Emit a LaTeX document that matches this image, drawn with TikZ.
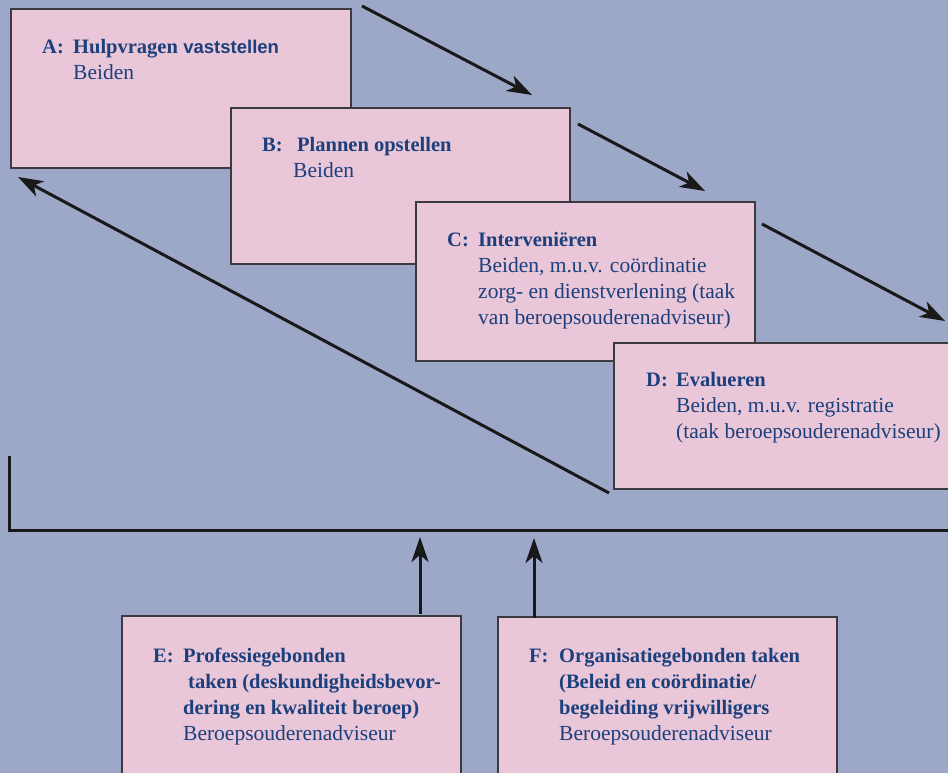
\documentclass[tikz,border=0pt]{standalone}
\usepackage{fontspec}
\setmainfont{Liberation Serif}
\newfontfamily\sansbold{Liberation Sans}
\usetikzlibrary{arrows.meta}
\definecolor{bg}{HTML}{9DA8C8}
\definecolor{pinkbox}{HTML}{E9C6D8}
\definecolor{txt}{HTML}{1C407C}
\definecolor{edge}{HTML}{3A3A40}
\newcommand{\hd}[1]{{\fontsize{20.5}{26}\selectfont\bfseries #1}}
\begin{document}
\begin{tikzpicture}[x=1pt,y=-1pt,
  stagebox/.style={draw=edge, line width=1.5pt, fill=pinkbox, anchor=north west, inner sep=0pt, outer sep=0pt},
  lbl/.style={anchor=base west, inner sep=0pt, text=txt, font=\fontsize{20.5}{26}\selectfont\bfseries},
  body/.style={anchor=base west, inner sep=0pt, text=txt, font=\fontsize{21.5}{26}\selectfont},
  flow/.style={line width=3pt, draw=black!90, -{Stealth[length=25pt,width=17pt,inset=7pt]}},
  frame/.style={line width=3pt, draw=black!90},
]
\useasboundingbox (0,0) rectangle (948,773);
\clip (0,0) rectangle (948,773);
\fill[bg] (0,0) rectangle (948,773);

% boxes
\node[stagebox, minimum width=340pt, minimum height=159pt] (A) at (11,9) {};
\node[stagebox, minimum width=339pt, minimum height=156pt] (B) at (231,108) {};
\node[stagebox, minimum width=339pt, minimum height=159pt] (C) at (416,202) {};
\node[stagebox, minimum width=350pt, minimum height=146pt] (D) at (614,343) {};
\node[stagebox, minimum width=339pt, minimum height=180pt] (E) at (122,616) {};
\node[stagebox, minimum width=339pt, minimum height=180pt] (F) at (498,617) {};

% texts
\node[lbl] (Al) at (42,54) {A:};
\node[body] (At) at (73,54) {\begin{tabular}[t]{@{}l@{}}\hd{Hulpvragen} {\sansbold\fontsize{18.5}{26}\selectfont\bfseries vaststellen}\\Beiden\end{tabular}};
\node[lbl] (Bl) at (262,152) {B:};
\node[body] (Bt) at (293,152) {\begin{tabular}[t]{@{}l@{}}\hspace{4pt}\hd{Plannen opstellen}\\Beiden\end{tabular}};
\node[lbl] (Cl) at (447,246) {C:};
\node[body] (Ct) at (478,246) {\begin{tabular}[t]{@{}l@{}}\hd{Interveniëren}\\Beiden, m.u.v. coördinatie\\zorg- en dienstverlening (taak\\van beroepsouderenadviseur)\end{tabular}};
\node[lbl] (Dl) at (646,386) {D:};
\node[body] (Dt) at (676,386) {\begin{tabular}[t]{@{}l@{}}\hd{Evalueren}\\Beiden, m.u.v. registratie\\(taak beroepsouderenadviseur)\end{tabular}};
\node[lbl] (El) at (153,662) {E:};
\node[body] (Et) at (183,662) {\begin{tabular}[t]{@{}l@{}}\hd{Professiegebonden}\\\hspace{5pt}\hd{taken (deskundigheidsbevor-}\\\hd{dering en kwaliteit beroep)}\\Beroepsouderenadviseur\end{tabular}};
\node[lbl] (Fl) at (529,662) {F:};
\node[body] (Ft) at (559,662) {\begin{tabular}[t]{@{}l@{}}\hd{Organisatiegebonden taken}\\\hd{(Beleid en coördinatie/}\\\hd{begeleiding vrijwilligers}\\Beroepsouderenadviseur\end{tabular}};

% connector end points
\coordinate (a1s) at (362,6);   \coordinate (a1e) at (532,95);
\coordinate (a2s) at (578,124); \coordinate (a2e) at (705,191);
\coordinate (a3s) at (762,224); \coordinate (a3e) at (945,321);
\coordinate (rs) at (609,493);  \coordinate (re) at (18,177);
\coordinate (eS) at (420,614);  \coordinate (eT) at (420,537);
\coordinate (fS) at (534,618);  \coordinate (fT) at (534,538);
\coordinate (k1) at (9,456); \coordinate (k2) at (9,530); \coordinate (k3) at (960,530);

\draw[flow] (a1s) -- (a1e);
\draw[flow] (a2s) -- (a2e);
\draw[flow] (a3s) -- (a3e);
\draw[flow] (rs) -- (re);
\draw[flow] (eS) -- (eT);
\draw[flow] (fS) -- (fT);
\draw[frame] (k1) -- (k2) -- (k3);
\end{tikzpicture}
\end{document}
